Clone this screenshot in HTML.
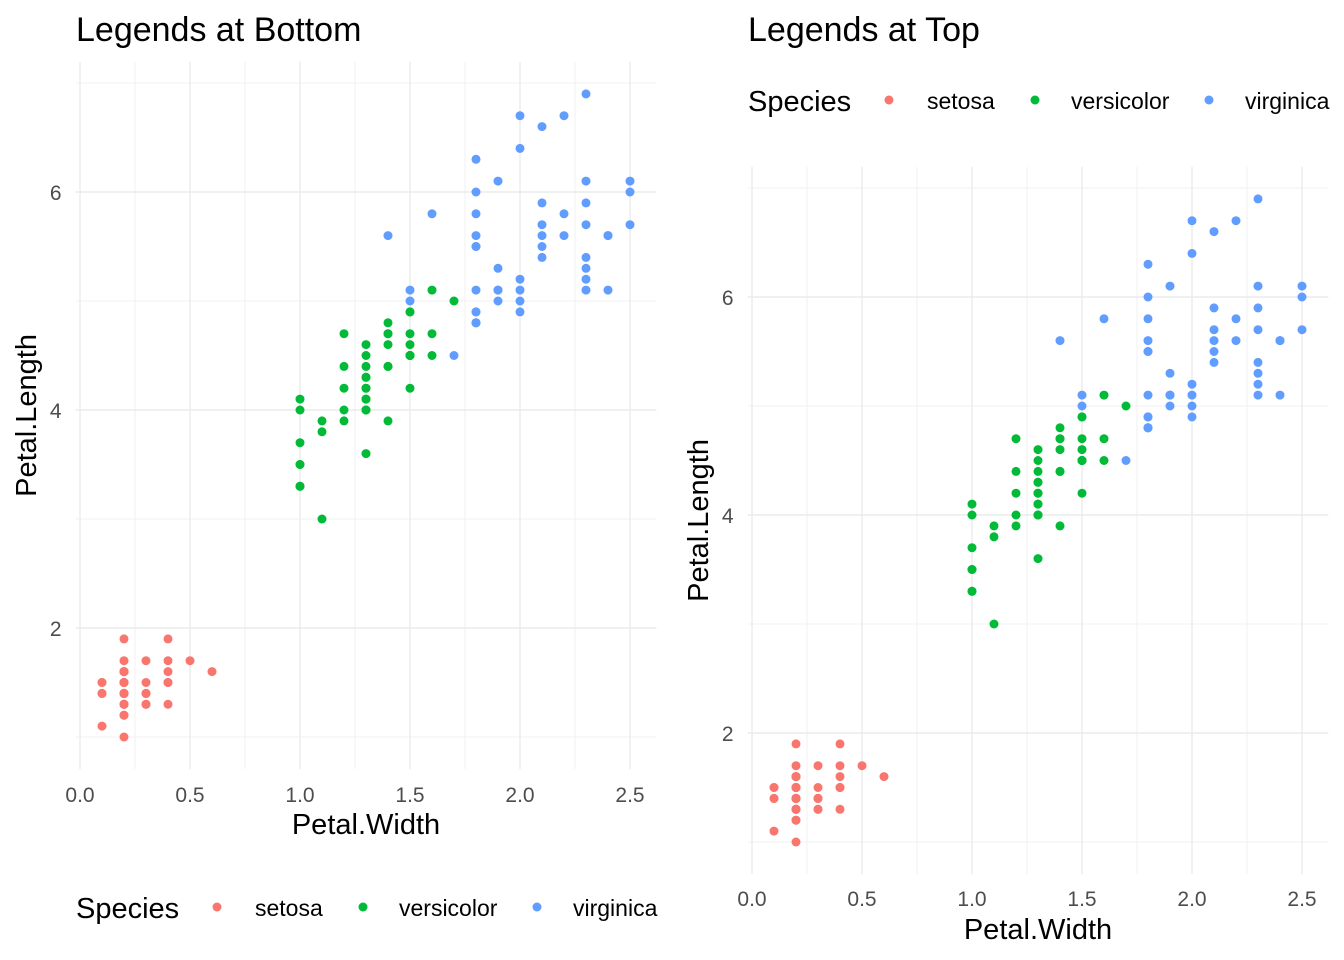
<!DOCTYPE html>
<html><head><meta charset="utf-8">
<style>
body{margin:0;background:#fff;}
svg{display:block;font-family:"Liberation Sans",sans-serif;}
</style></head>
<body>
<svg id="chart" width="1344" height="960" xmlns="http://www.w3.org/2000/svg"></svg>
<script>
const species = ["setosa","versicolor","virginica"];
const colors = ["#F8766D","#00BA38","#619CFF"];
const setosaLength = [1.4,1.4,1.3,1.5,1.4,1.7,1.4,1.5,1.4,1.5,1.5,1.6,1.4,1.1,1.2,1.5,1.3,1.4,1.7,1.5,1.7,1.5,1.0,1.7,1.9,1.6,1.6,1.5,1.4,1.6,1.6,1.5,1.5,1.4,1.5,1.2,1.3,1.4,1.3,1.5,1.3,1.3,1.3,1.6,1.9,1.4,1.6,1.4,1.5,1.4];
const setosaWidth = [0.2,0.2,0.2,0.2,0.2,0.4,0.3,0.2,0.2,0.1,0.2,0.2,0.1,0.1,0.2,0.4,0.4,0.3,0.3,0.3,0.2,0.4,0.2,0.5,0.2,0.2,0.4,0.2,0.2,0.2,0.2,0.4,0.1,0.2,0.2,0.2,0.2,0.1,0.2,0.2,0.3,0.3,0.2,0.6,0.4,0.3,0.2,0.2,0.2,0.2];
const versicolorLength = [4.7,4.5,4.9,4.0,4.6,4.5,4.7,3.3,4.6,3.9,3.5,4.2,4.0,4.7,3.6,4.4,4.5,4.1,4.5,3.9,4.8,4.0,4.9,4.7,4.3,4.4,4.8,5.0,4.5,3.5,3.8,3.7,3.9,5.1,4.5,4.5,4.7,4.4,4.1,4.0,4.4,4.6,4.0,3.3,4.2,4.2,4.2,4.3,3.0,4.1];
const versicolorWidth = [1.4,1.5,1.5,1.3,1.5,1.3,1.6,1.0,1.3,1.4,1.0,1.5,1.0,1.4,1.3,1.4,1.5,1.0,1.5,1.1,1.8,1.3,1.5,1.2,1.3,1.4,1.4,1.7,1.5,1.0,1.1,1.0,1.2,1.6,1.5,1.6,1.5,1.3,1.3,1.3,1.2,1.4,1.2,1.0,1.3,1.2,1.3,1.3,1.1,1.3];
const virginicaLength = [6.0,5.1,5.9,5.6,5.8,6.6,4.5,6.3,5.8,6.1,5.1,5.3,5.5,5.0,5.1,5.3,5.5,6.7,6.9,5.0,5.7,4.9,6.7,4.9,5.7,6.0,4.8,4.9,5.6,5.8,6.1,6.4,5.6,5.1,5.6,6.1,5.6,5.5,4.8,5.4,5.6,5.1,5.1,5.9,5.7,5.2,5.0,5.2,5.4,5.1];
const virginicaWidth = [2.5,1.9,2.1,1.8,2.2,2.1,1.7,1.8,1.8,2.5,2.0,1.9,2.1,2.0,2.4,2.3,1.8,2.2,2.3,1.5,2.3,2.0,2.0,1.8,2.1,1.8,1.8,1.8,2.1,1.6,1.9,2.0,2.2,1.5,1.4,2.3,2.4,1.8,1.8,2.1,2.4,2.3,1.9,2.3,2.5,2.3,1.9,2.0,2.3,1.8];
const xTicks = [0,0.5,1.0,1.5,2.0,2.5];
const xTickLabels = ["0.0","0.5","1.0","1.5","2.0","2.5"];
const yTicks = [2,4,6];
const yTickLabels = ["2","4","6"];

const lengths=[setosaLength,versicolorLength,virginicaLength];
const widths=[setosaWidth,versicolorWidth,virginicaWidth];
const NS="http://www.w3.org/2000/svg";
const svg=document.getElementById('chart');
function mk(tag,attrs,parent,text){const e=document.createElementNS(NS,tag);for(const k in attrs)e.setAttribute(k,attrs[k]);if(text!==undefined)e.textContent=text;(parent||svg).appendChild(e);return e;}

function panel(p){
  const g=mk('g',{});
  
  
  const xs=v=>p.x0+220*v, ys=v=>p.y0-109*v;
  const xmin=-0.02,xmax=2.62,ymin=0.705,ymax=7.195;
  const L=xs(xmin),R=xs(xmax),T=ys(ymax),B=ys(ymin);
  for(let v=0.25;v<2.62;v+=0.5){const l=mk('line',{x1:xs(v),x2:xs(v),y1:T,y2:B,stroke:'#f2f2f2','stroke-width':1},g);}
  for(let v=1;v<7.2;v+=2){const l=mk('line',{x1:L,x2:R,y1:ys(v),y2:ys(v),stroke:'#f2f2f2','stroke-width':1},g);}
  xTicks.forEach((v,i)=>{
    const l=mk('line',{x1:xs(v),x2:xs(v),y1:T,y2:B,stroke:'#ebebeb','stroke-width':1.4},g);
    
    const t=mk('text',{x:xs(v),y:p.xTickY,'text-anchor':'middle','font-size':21,fill:'#4d4d4d'},g,xTickLabels[i]);
    
  });
  yTicks.forEach((v,i)=>{
    const l=mk('line',{x1:L,x2:R,y1:ys(v),y2:ys(v),stroke:'#ebebeb','stroke-width':1.4},g);
    
    const t=mk('text',{x:L-14,y:ys(v)+8,'text-anchor':'end','font-size':21,fill:'#4d4d4d'},g,yTickLabels[i]);
    
  });
  species.forEach((s,si)=>{
    lengths[si].forEach((len,j)=>{
      const c=mk('circle',{cx:xs(widths[si][j]),cy:ys(len),r:4.5,fill:colors[si]},g);
      
      
    });
  });
  let t=mk('text',{x:p.x0-4,y:41,'font-size':34,fill:'#000'},g,p.title);
  
  t=mk('text',{x:(L+R)/2,y:p.xTitleY,'text-anchor':'middle','font-size':29,fill:'#000'},g,'Petal.Width');
  
  const cy=(T+B)/2;
  t=mk('text',{x:p.yTitleX,y:cy,'text-anchor':'middle','font-size':29,fill:'#000',transform:`rotate(-90 ${p.yTitleX} ${cy})`},g,'Petal.Length');
  
  const lg=mk('g',{},g);
  
  t=mk('text',{x:p.x0-4,y:p.legY+11,'font-size':29,fill:'#000'},lg,'Species');
  
  const dx=[p.x0+137,p.x0+283,p.x0+457], lx=[p.x0+175,p.x0+319,p.x0+493];
  species.forEach((s,si)=>{
    const c=mk('circle',{cx:dx[si],cy:p.legY,r:4.5,fill:colors[si]},lg);
    
    const tt=mk('text',{x:lx[si],y:p.legY+9,'font-size':23,fill:'#000'},lg,s);
    
  });
}
panel({name:'panel-legend-bottom',title:'Legends at Bottom',x0:80,y0:846,xTickY:802,xTitleY:834,yTitleX:36,legY:907});
panel({name:'panel-legend-top',title:'Legends at Top',x0:752,y0:951,xTickY:906,xTitleY:939,yTitleX:708,legY:100});
</script>
</body></html>
